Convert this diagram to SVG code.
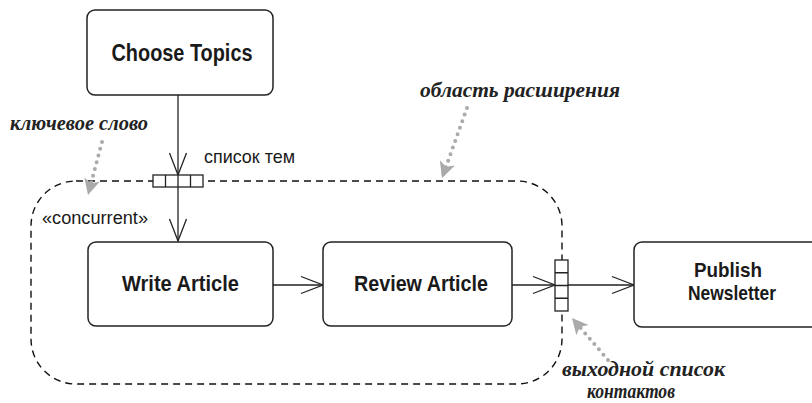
<svg xmlns="http://www.w3.org/2000/svg" width="812" height="403" viewBox="0 0 812 403">
<style>
.box{fill:#fff;stroke:#222;stroke-width:1.5}
.bt{font-family:"Liberation Sans",Arial,sans-serif;font-weight:bold;fill:#1a1a1a;text-anchor:middle}
.lbl{font-family:"Liberation Sans",Arial,sans-serif;fill:#1a1a1a}
.hand{font-family:"Liberation Serif","DejaVu Serif",serif;font-style:italic;font-weight:bold;fill:#222}
.edge{fill:none;stroke:#222;stroke-width:1.3;marker-end:url(#open)}
.note{fill:none;stroke:#aaa;stroke-width:4;stroke-linecap:round;stroke-dasharray:0 7;marker-end:url(#grey)}
.pin{fill:#fff;stroke:#222;stroke-width:1.3}
</style>
<defs>
<marker id="open" markerUnits="userSpaceOnUse" markerWidth="24" markerHeight="20" refX="22" refY="8.5" orient="auto" overflow="visible">
<path d="M0,0 L22,8.5 L0,17" fill="none" stroke="#222" stroke-width="1.3"/>
</marker>
<marker id="grey" markerUnits="userSpaceOnUse" markerWidth="18" markerHeight="18" refX="16" refY="8" orient="auto" overflow="visible">
<path d="M0,0 L16,8 L0,16 L4,8 Z" fill="#aaa"/>
</marker>
</defs>

<g id="expansion-region">
<path d="M76,181 H517 A45,45 0 0 1 562,226 V339 A45,45 0 0 1 517,384 H76 A45,45 0 0 1 31,339 V226 A45,45 0 0 1 76,181 Z" fill="none" stroke="#111" stroke-width="1.4" stroke-dasharray="7 5"/>
<text class="lbl" x="42" y="224" font-size="18" textLength="106" lengthAdjust="spacingAndGlyphs">«concurrent»</text>
</g>

<g id="connectors">
<line class="edge" x1="178" y1="95" x2="178" y2="175"/>
<line class="edge" x1="178" y1="187" x2="178" y2="241"/>
<line class="edge" x1="273" y1="285" x2="323" y2="285"/>
<line class="edge" x1="512" y1="285" x2="555" y2="285"/>
<line class="edge" x1="568" y1="285" x2="634" y2="285"/>
</g>

<g id="choose-topics">
<rect class="box" x="87" y="10" width="186" height="85" rx="8"/>
<text class="bt" x="182" y="61" font-size="23" textLength="141" lengthAdjust="spacingAndGlyphs">Choose Topics</text>
</g>

<g id="input-pin">
<rect class="pin" x="153" y="175" width="50" height="12"/>
<path d="M165.5,175 V187 M178,175 V187 M190.5,175 V187" stroke="#222" stroke-width="1.3"/>
<text class="lbl" x="204" y="163" font-size="19" textLength="91" lengthAdjust="spacingAndGlyphs">список тем</text>
</g>

<g id="write-article">
<rect class="box" x="88" y="242" width="185" height="84" rx="8"/>
<text class="bt" x="180.5" y="291" font-size="22" textLength="117" lengthAdjust="spacingAndGlyphs">Write Article</text>
</g>

<g id="review-article">
<rect class="box" x="323" y="242" width="189" height="84" rx="8"/>
<text class="bt" x="421" y="291" font-size="22" textLength="134" lengthAdjust="spacingAndGlyphs">Review Article</text>
</g>

<g id="output-pin">
<rect class="pin" x="555" y="260" width="13" height="51"/>
<path d="M555,272.75 H568 M555,285.5 H568 M555,298.25 H568" stroke="#222" stroke-width="1.3"/>
</g>

<g id="publish-newsletter">
<rect class="box" x="634" y="242" width="186" height="85" rx="8"/>
<text class="bt" x="728" y="277" font-size="21" textLength="68" lengthAdjust="spacingAndGlyphs">Publish</text>
<text class="bt" x="732" y="300" font-size="21" textLength="88" lengthAdjust="spacingAndGlyphs">Newsletter</text>
</g>

<g id="note-keyword">
<text class="hand" x="10" y="130" font-size="20" textLength="138" lengthAdjust="spacingAndGlyphs">ключевое слово</text>
<line class="note" x1="102" y1="142" x2="88" y2="195"/>
</g>

<g id="note-region">
<text class="hand" x="420" y="97" font-size="20" textLength="200" lengthAdjust="spacingAndGlyphs">область расширения</text>
<line class="note" x1="467" y1="108" x2="442" y2="178"/>
</g>

<g id="note-output">
<text class="hand" x="562" y="376" font-size="20" textLength="163" lengthAdjust="spacingAndGlyphs">выходной список</text>
<text class="hand" x="587" y="398" font-size="21" textLength="88" lengthAdjust="spacingAndGlyphs">контактов</text>
<line class="note" x1="608" y1="360" x2="572" y2="318"/>
</g>
</svg>
